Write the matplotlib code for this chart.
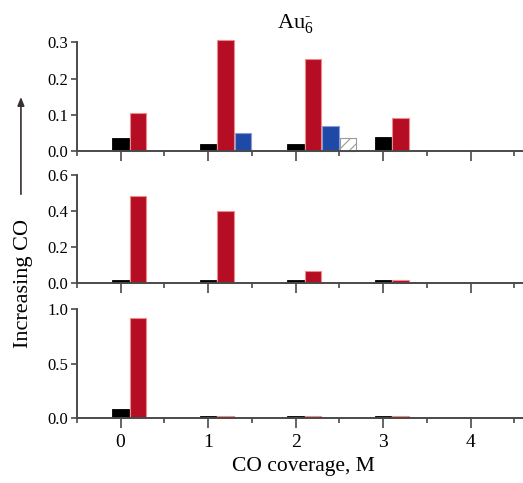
import matplotlib
matplotlib.use("Agg")
import matplotlib.pyplot as plt
from matplotlib.ticker import MultipleLocator

plt.rcParams['font.family'] = ['Liberation Serif', 'DejaVu Serif']
plt.rcParams['mathtext.fontset'] = 'custom'
plt.rcParams['mathtext.rm'] = 'Liberation Serif'
plt.rcParams['mathtext.it'] = 'Liberation Serif:italic'
plt.rcParams['hatch.linewidth'] = 0.8

# ---- data ----
coverage_ticks = [0, 1, 2, 3, 4]

# top panel (lowest CO pressure)
top_black_x = [0, 1, 2, 3]
top_black = [0.035, 0.020, 0.020, 0.038]
top_red_x = [0, 1, 2, 3]
top_red = [0.105, 0.305, 0.255, 0.091]
top_blue_x = [1, 2]
top_blue = [0.051, 0.068]
top_hatch_x = [2]
top_hatch = [0.035]

# middle panel
mid_black_x = [0, 1, 2, 3]
mid_black = [0.020, 0.020, 0.020, 0.020]
mid_red_x = [0, 1, 2, 3]
mid_red = [0.487, 0.400, 0.068, 0.020]

# bottom panel (highest CO pressure)
bot_black_x = [0, 1, 2, 3]
bot_black = [0.077, 0.012, 0.012, 0.012]
bot_red_x = [0, 1, 2, 3]
bot_red = [0.920, 0.012, 0.012, 0.012]

panel_ylims = [(0, 0.3), (0, 0.6), (0, 1.0)]
panel_yticks = [[0.0, 0.1, 0.2, 0.3], [0.0, 0.2, 0.4, 0.6], [0.0, 0.5, 1.0]]

# ---- styles ----
W = 0.19
BLACK = '#000000'
RED = '#b50e24'
RED_EDGE = '#ef8a8a'
BLUE = '#1f49a6'
BLUE_EDGE = '#8c9ad6'
SPINE = '#4a4a4a'

fig = plt.figure(figsize=(5.23, 4.83), dpi=100)

positions = [
    [0.147, 0.687, 0.853, 0.2257],
    [0.147, 0.4135, 0.853, 0.2236],
    [0.147, 0.1352, 0.853, 0.2244],
]

axes = [fig.add_axes(p) for p in positions]

def bars(ax, xs, hs, off, **kw):
    ax.bar([x + off for x in xs], hs, width=W, align='center', clip_on=False, **kw)

# top
a = axes[0]
bars(a, top_black_x, top_black, 0.0, color=BLACK, edgecolor=BLACK, linewidth=0.6)
bars(a, top_red_x, top_red, 0.2, color=RED, edgecolor=RED_EDGE, linewidth=0.8)
bars(a, top_blue_x, top_blue, 0.4, color=BLUE, edgecolor=BLUE_EDGE, linewidth=0.8)
bars(a, top_hatch_x, top_hatch, 0.6, color='white', edgecolor='#9a9a9a', hatch='///', linewidth=0.8)

# middle
a = axes[1]
bars(a, mid_black_x, mid_black, 0.0, color=BLACK, edgecolor=BLACK, linewidth=0.6)
bars(a, mid_red_x, mid_red, 0.2, color=RED, edgecolor=RED_EDGE, linewidth=0.8)

# bottom
a = axes[2]
bars(a, bot_black_x, bot_black, 0.0, color=BLACK, edgecolor=BLACK, linewidth=0.6)
bars(a, bot_red_x, bot_red, 0.2, color=RED, edgecolor=RED_EDGE, linewidth=0.8)

for i, ax in enumerate(axes):
    ax.set_xlim(-0.5, 4.6)
    ax.set_ylim(*panel_ylims[i])
    ax.set_yticks(panel_yticks[i])
    ax.set_yticklabels([f"{t:.1f}" for t in panel_yticks[i]])
    ax.set_xticks(coverage_ticks)
    ax.xaxis.set_minor_locator(MultipleLocator(0.5))
    for s in ['top', 'right']:
        ax.spines[s].set_visible(False)
    for s in ['left', 'bottom']:
        ax.spines[s].set_color(SPINE)
        ax.spines[s].set_linewidth(1.4)
    ax.tick_params(axis='y', direction='out', length=4, width=1.2, color=SPINE,
                   labelsize=12, pad=2)
    ax.tick_params(axis='x', which='major', direction='out', length=7, width=1.2,
                   color=SPINE, labelsize=14, pad=5)
    ax.tick_params(axis='x', which='minor', direction='out', length=3.5, width=1.2,
                   color=SPINE)
    ax.patch.set_visible(False)
    if i < 2:
        ax.tick_params(axis='x', labelbottom=False)

fig.text(0.565, 0.952, r"Au$_6^{\text{-}}$", ha='center', va='center', fontsize=16)
fig.text(0.58, 0.035, "CO coverage, M", ha='center', va='center', fontsize=15.5)
fig.text(0.044, 0.413, "Increasing CO", ha='center', va='center', rotation=90,
         fontsize=16)
fig.add_artist(matplotlib.patches.FancyArrowPatch(
    (0.040, 0.592), (0.040, 0.805), transform=fig.transFigure,
    arrowstyle='-|>,head_length=5,head_width=2', mutation_scale=1,
    color='#3a3030', linewidth=1.2))

fig.savefig("out.png", dpi=100)
